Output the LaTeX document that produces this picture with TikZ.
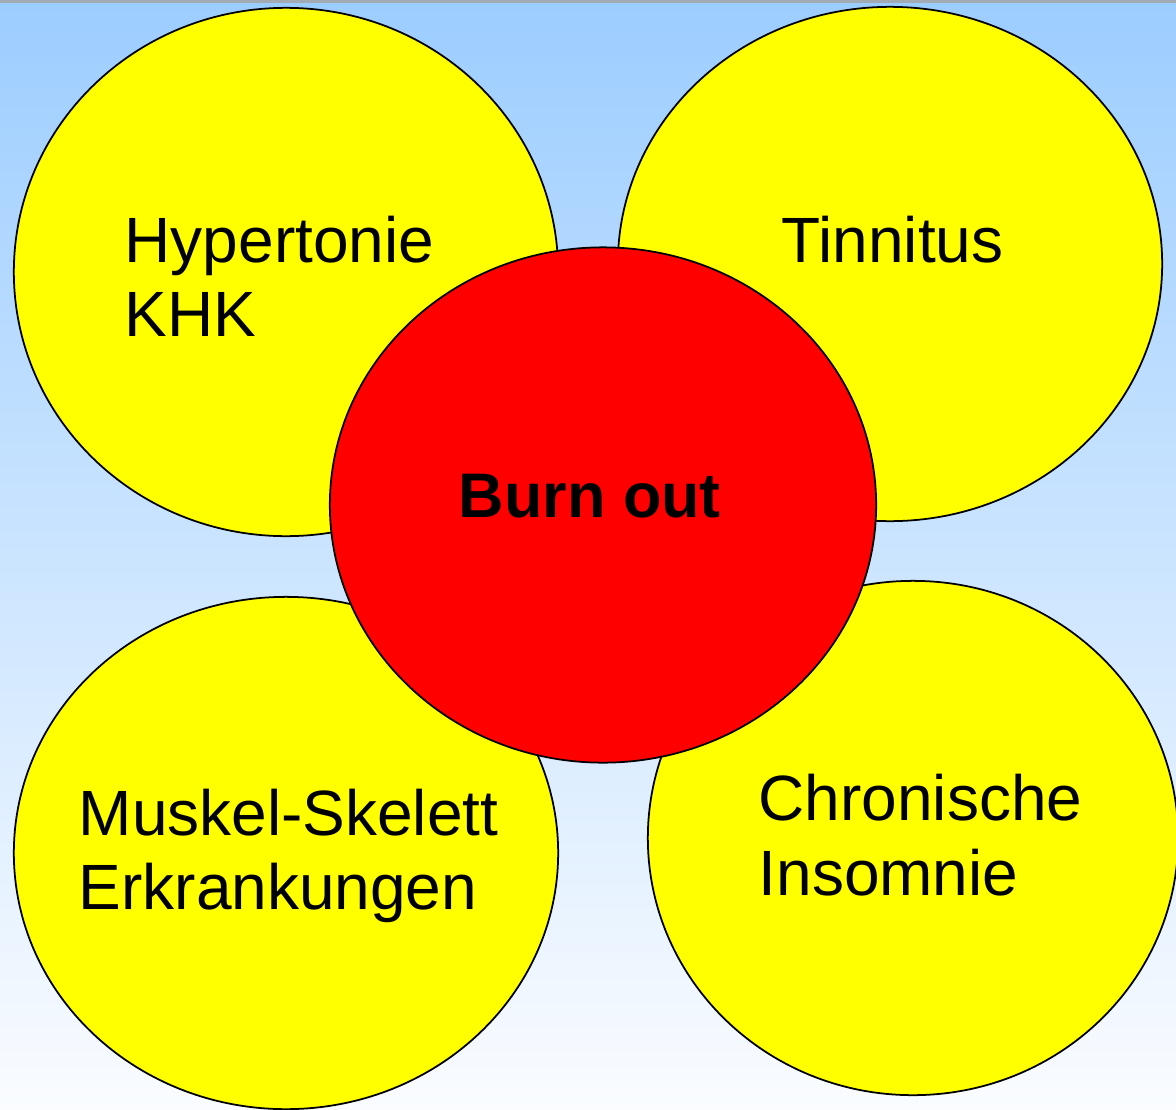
\documentclass[tikz,border=0pt]{standalone}
\usepackage{fontspec}
\setmainfont{Liberation Sans}
\usetikzlibrary{shapes.geometric}
\definecolor{skytop}{RGB}{156,205,255}
\definecolor{skybottom}{RGB}{250,252,255}
\definecolor{framegray}{RGB}{162,170,180}
\definecolor{bubble}{RGB}{255,255,0}
\definecolor{core}{RGB}{255,0,0}
\tikzset{
  bubble/.style={ellipse, draw=black, line width=0.5pt, fill=bubble, inner sep=0pt},
  corebubble/.style={ellipse, draw=black, line width=0.5pt, fill=core, inner sep=0pt},
  label/.style={anchor=north west, inner sep=0pt, align=left,
    font=\fontsize{18.2}{21.3}\selectfont},
}
\begin{document}
\begin{tikzpicture}[x=0.01cm, y=-0.01cm]
  \useasboundingbox (0,0) rectangle (1176,1109);
  \clip (0,0) rectangle (1176,1109);
  % sky gradient and top frame strip
  \shade[top color=skytop, bottom color=skybottom] (0,0) rectangle (1176,1109);
  \fill[framegray] (0,0) rectangle (1176,3);

  % outer bubbles
  \node[bubble, minimum width=5.44cm, minimum height=5.28cm] (tl) at (286,272) {};
  \node[bubble, minimum width=5.44cm, minimum height=5.14cm] (tr) at (890,264) {};
  \node[bubble, minimum width=5.44cm, minimum height=5.12cm] (bl) at (286,853) {};
  \node[bubble, minimum width=5.30cm, minimum height=5.14cm] (br) at (913,838) {};

  % central bubble
  \node[corebubble, minimum width=5.46cm, minimum height=5.15cm] (c) at (603,505) {};

  % texts
  \node[label] (tltext) at (124,215) {Hypertonie\\KHK};
  \node[label] (trtext) at (781,215) {Tinnitus};
  \node[label] (bltext) at (78,788) {Muskel-Skelett\\Erkrankungen};
  \node[label] (brtext) at (758,773) {Chronische\\Insomnie};
  \node[anchor=base west, inner sep=0pt, font=\fontsize{17.9}{21}\selectfont\bfseries] (ctext) at (458,517) {Burn out};
\end{tikzpicture}
\end{document}
